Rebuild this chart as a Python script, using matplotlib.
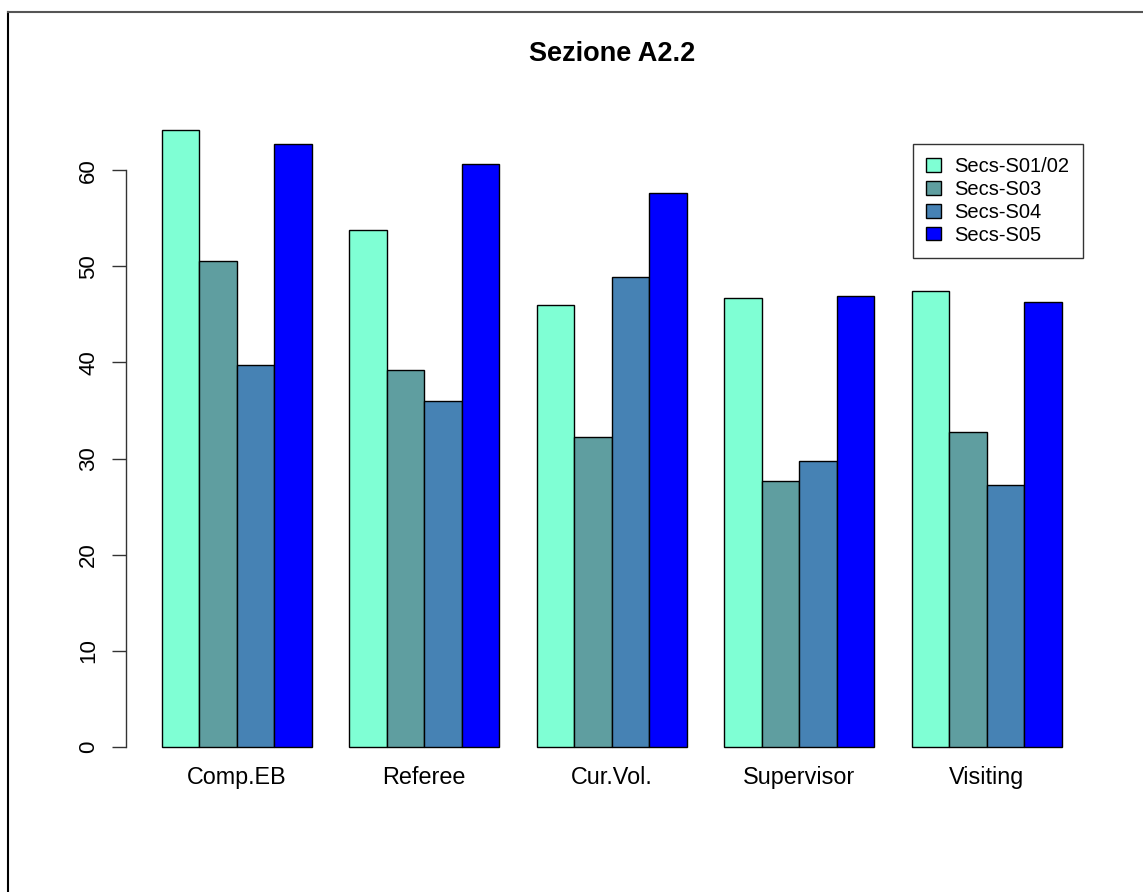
import matplotlib
matplotlib.use("Agg")
import matplotlib.pyplot as plt
import numpy as np
from matplotlib.lines import Line2D

plt.rcParams['font.family'] = ['Liberation Sans', 'DejaVu Sans']

categories = ["Comp.EB", "Referee", "Cur.Vol.", "Supervisor", "Visiting"]
series_names = ["Secs-S01/02", "Secs-S03", "Secs-S04", "Secs-S05"]
s01_02 = [64.25, 53.8, 45.95, 46.75, 47.4]
s03 = [50.6, 39.25, 32.2, 27.65, 32.8]
s04 = [39.7, 36.0, 48.9, 29.7, 27.2]
s05 = [62.8, 60.7, 57.7, 46.9, 46.3]
yticks = [0, 10, 20, 30, 40, 50, 60]
colors = ["#7FFFD4", "#5F9EA0", "#4682B4", "#0000FF"]

series = [s01_02, s03, s04, s05]

W, H = 1143, 892
fig = plt.figure(figsize=(W / 100, H / 100), dpi=100)
ax = fig.add_axes([125.7 / W, 1 - 771.2 / H, (1097.7 - 125.7) / W, (771.2 - 105) / H])

n_cat = len(categories)
n_ser = len(series)
group = np.arange(n_cat) * (n_ser + 1)
handles = []
for k, vals in enumerate(series):
    lefts = group + 1 + k
    b = ax.bar(lefts, vals, width=1.0, align='edge', color=colors[k],
               edgecolor='black', linewidth=1.0, label=series_names[k])
    handles.append(b)

ymax = max(max(s) for s in series)
ax.set_xlim(0.04, n_cat * (n_ser + 1) + 0.96)
ax.set_ylim(-0.04 * ymax, 1.04 * ymax)

for side in ['top', 'right', 'bottom']:
    ax.spines[side].set_visible(False)
ax.spines['left'].set_bounds(yticks[0], yticks[-1])
ax.spines['left'].set_linewidth(1.0)
ax.spines['left'].set_color('#333333')
ax.set_yticks(yticks)
ax.set_yticklabels([str(t) for t in yticks], rotation=90, va='center', fontsize=16)
ax.tick_params(axis='y', direction='out', length=10, width=1.0, pad=9, color='#333333')

centers = group + 1 + n_ser / 2
ax.set_xticks(centers)
ax.set_xticklabels(categories, fontsize=16.8)
ax.tick_params(axis='x', length=0, pad=-4)

ax.set_title("Sezione A2.2", fontsize=19.5, fontweight='bold', pad=32)

leg = ax.legend(handles=handles, labels=series_names, loc='upper right',
                bbox_to_anchor=(1082.7 / W, 1 - 144 / H), bbox_transform=fig.transFigure,
                fontsize=14.5, frameon=True, fancybox=False, borderaxespad=0,
                handlelength=0.75, handleheight=0.65, handletextpad=0.65,
                labelspacing=0.19, borderpad=0.66)
leg.get_frame().set_edgecolor('black')
leg.get_frame().set_linewidth(1.0)

# outer border of the figure
fig.add_artist(Line2D([8 / W, 8 / W], [0, 1 - 12 / H], transform=fig.transFigure, color='black', lw=1.5))
fig.add_artist(Line2D([8 / W, 1], [1 - 12 / H, 1 - 12 / H], transform=fig.transFigure, color='#555555', lw=1.5))

fig.savefig("out.png", dpi=100)
